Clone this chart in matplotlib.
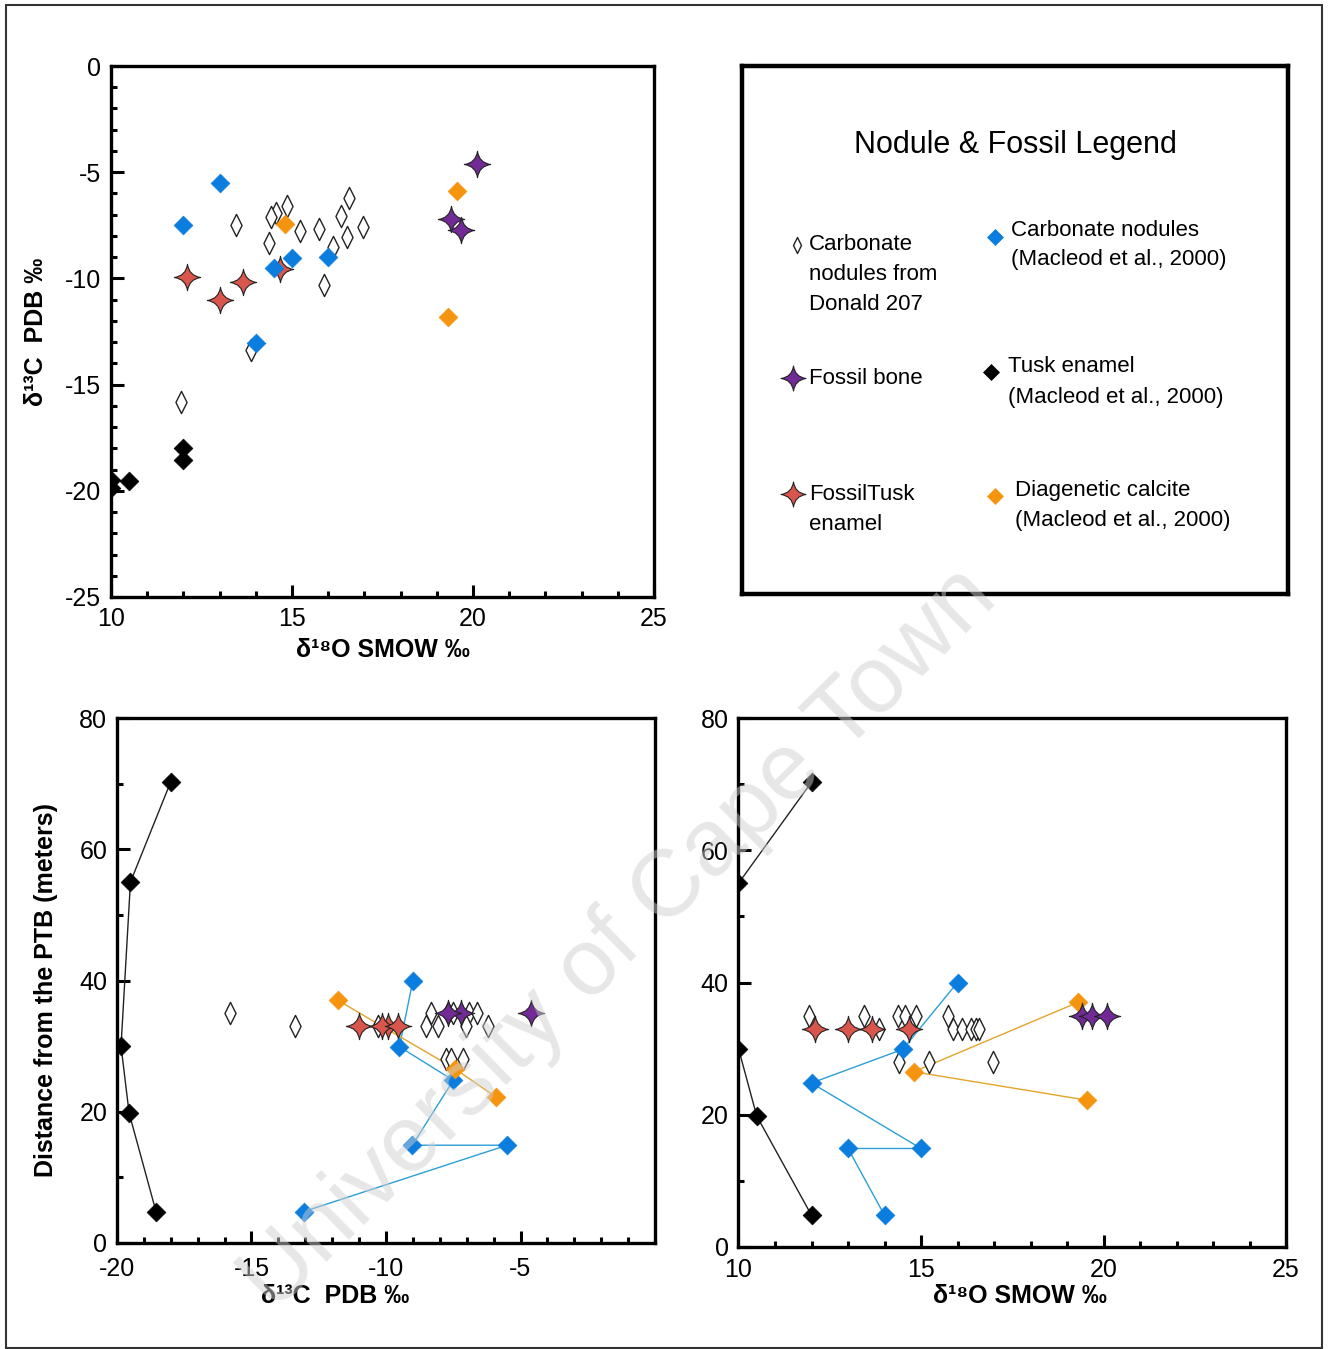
import numpy as np
import matplotlib
matplotlib.use("Agg")
import matplotlib.pyplot as plt
from matplotlib.path import Path
from matplotlib.ticker import MultipleLocator
from matplotlib.patches import Rectangle

plt.rcParams['font.family'] = ['Liberation Sans', 'DejaVu Sans']
plt.rcParams['axes.unicode_minus'] = False

## data: d18O (SMOW), d13C (PDB), distance from the PTB (m)
# carbonate nodules from Donald 207
nod_o18 = [11.93, 13.45, 14.37, 14.55, 14.85, 15.74, 13.86, 15.88, 16.12, 16.36, 16.51, 16.58, 14.41, 15.23, 16.97]
nod_c13 = [-15.8, -7.5, -8.32, -6.92, -6.6, -7.68, -13.37, -10.31, -8.5, -7.04, -8.05, -6.2, -7.12, -7.78, -7.6]
nod_dist = [35, 35, 35, 35, 35, 35, 33, 33, 33, 33, 33, 33, 28, 28, 28]

# fossil tusk enamel
tusk_o18 = [12.1, 13.0, 13.66, 14.67]
tusk_c13 = [-9.92, -11.02, -10.15, -9.56]
tusk_dist = [33, 33, 33, 33]

# fossil bone
bone_o18 = [19.4, 19.68, 20.1]
bone_c13 = [-7.2, -7.7, -4.62]
bone_dist = [35, 35, 35]

# carbonate nodules (Macleod et al., 2000)
mac_o18 = [14.0, 13.0, 15.0, 12.0, 14.5, 16.0]
mac_c13 = [-13.05, -5.5, -9.02, -7.5, -9.5, -9.0]
mac_dist = [4.8, 14.9, 14.9, 24.8, 29.9, 40]

# tusk enamel (Macleod et al., 2000)
enam_o18 = [12.0, 10.5, 10.0, 10.0, 12.0]
enam_c13 = [-18.55, -19.55, -19.85, -19.5, -18.0]
enam_dist = [4.8, 19.8, 30, 55, 70.3]

# diagenetic calcite (Macleod et al., 2000)
diag_o18 = [19.55, 14.8, 19.3]
diag_c13 = [-5.9, -7.42, -11.8]
diag_dist = [22.2, 26.5, 37.0]

BLUE = '#0a7ddf'
ORANGE = '#f5950f'
RED = '#d9564c'
PURPLE = '#722a96'


def closed(verts):
    return Path(verts + [verts[0]], [Path.MOVETO] + [Path.LINETO] * (len(verts) - 1) + [Path.CLOSEPOLY])


def sparkle(c=0.12):
    # 4 pointed star with concave sides
    tips = [(0, 1), (1, 0), (0, -1), (-1, 0)]
    ctrl = [(c, c), (c, -c), (-c, -c), (-c, c)]
    verts = [tips[0]]
    codes = [Path.MOVETO]
    for i in range(4):
        verts += [ctrl[i], tips[(i + 1) % 4]]
        codes += [Path.CURVE3, Path.CURVE3]
    verts.append(tips[0])
    codes.append(Path.CLOSEPOLY)
    return Path(verts, codes)

STAR = sparkle()
DIAMOND = closed([(0, 1), (1, 0), (0, -1), (-1, 0)])
THIN = closed([(0, 1), (0.5, 0), (0, -1), (-0.5, 0)])

styles = {
    "nod": dict(marker=THIN, ms=16, mfc='white', mec='#222222', mew=1.0),
    "tusk": dict(marker=STAR, ms=19, mfc=RED, mec='#222222', mew=0.8),
    "mac": dict(marker=DIAMOND, ms=13.5, mfc=BLUE, mec=BLUE, mew=0.5),
    "diag": dict(marker=DIAMOND, ms=13.5, mfc=ORANGE, mec=ORANGE, mew=0.5),
    "enam": dict(marker=DIAMOND, ms=13.5, mfc='black', mec='black', mew=0.5),
    "bone": dict(marker=STAR, ms=19, mfc=PURPLE, mec='#222222', mew=0.8),
}

groups = [
    ("nod", nod_o18, nod_c13, nod_dist, None),
    ("tusk", tusk_o18, tusk_c13, tusk_dist, None),
    ("mac", mac_o18, mac_c13, mac_dist, '#2a9fd8'),
    ("diag", diag_o18, diag_c13, diag_dist, '#e2a42a'),
    ("enam", enam_o18, enam_c13, enam_dist, '#222222'),
    ("bone", bone_o18, bone_c13, bone_dist, None),
]

W, H = 1330, 1349
fig = plt.figure(figsize=(W / 100, H / 100), dpi=100)
fig.patches.append(Rectangle((6 / W, 1 - 1348 / H), 1316 / W, 1343 / H, transform=fig.transFigure,
                             fill=False, lw=1.5, ec='#333333'))


def axes_px(x0, y0, x1, y1):
    return fig.add_axes([x0 / W, 1 - y1 / H, (x1 - x0) / W, (y1 - y0) / H])


def style_axes(ax, xpad=7):
    for s in ['top', 'right', 'bottom', 'left']:
        ax.spines[s].set_linewidth(2.4)
    ax.tick_params(which='both', direction='in', top=False, right=False, width=2.2, labelsize=18, pad=7)
    ax.tick_params(axis='x', which='both', pad=xpad)
    ax.tick_params(which='major', length=9)
    ax.tick_params(which='minor', length=4)


def draw(ax, xi, yi, lines):
    for key, o18, c13, dist, lc in groups:
        cols = {"o": o18, "c": c13, "d": dist}
        x, y = cols[xi], cols[yi]
        if lines and lc is not None:
            ax.plot(x, y, color=lc, lw=1.0, zorder=2)
        ax.plot(x, y, ls='none', zorder=3, **styles[key])


O_LABEL = 'δ¹⁸O SMOW ‰'
C_LABEL = 'δ¹³C  PDB ‰'

# top left: d13C vs d18O
ax1 = axes_px(111, 66, 654, 597)
draw(ax1, "o", "c", False)
ax1.set_xlim(10, 25)
ax1.set_ylim(-25, 0)
ax1.xaxis.set_major_locator(MultipleLocator(5))
ax1.xaxis.set_minor_locator(MultipleLocator(1))
ax1.yaxis.set_major_locator(MultipleLocator(5))
ax1.yaxis.set_minor_locator(MultipleLocator(1))
style_axes(ax1)
ax1.set_xlabel(O_LABEL, fontsize=18, fontweight='bold', va='center')
ax1.xaxis.set_label_coords(0.5, -0.1)
ax1.set_ylabel(C_LABEL, fontsize=18, fontweight='bold', va='center')
ax1.yaxis.set_label_coords(-0.138, 0.5)

# legend panel
axl = axes_px(742, 66, 1288, 594)
axl.set_xlim(742, 1288)
axl.set_ylim(594, 66)
axl.set_xticks([])
axl.set_yticks([])
for s in axl.spines.values():
    s.set_linewidth(3.2)
axl.text(1015, 145, "Nodule & Fossil Legend", fontsize=22, ha='center', va='center')

legend_items = [
    ("nod", 797, 245, 11.5, 809, 245, ["Carbonate", "nodules from", "Donald 207"]),
    ("mac", 995, 237, 11.5, 1011, 230, ["Carbonate nodules", "(Macleod et al., 2000)"]),
    ("bone", 793, 378, 18, 809, 378, ["Fossil bone"]),
    ("enam", 991, 372, 11.5, 1008, 367, ["Tusk enamel", "(Macleod et al., 2000)"]),
    ("tusk", 793, 494, 18, 809, 494, ["FossilTusk", "enamel"]),
    ("diag", 995, 496, 11.5, 1015, 490, ["Diagenetic calcite", "(Macleod et al., 2000)"]),
]
for key, mx, my, ms, tx, ty, lines in legend_items:
    st = dict(styles[key])
    st["ms"] = ms
    axl.plot([mx], [my], ls='none', **st)
    for i, line in enumerate(lines):
        axl.text(tx, ty + 30 * i, line, fontsize=16, ha='left', va='center')

# bottom left: distance vs d13C
ax3 = axes_px(117, 718, 655, 1243)
draw(ax3, "c", "d", True)
ax3.set_xlim(-20, 0)
ax3.set_ylim(0, 80)
ax3.set_xticks([-20, -15, -10, -5])
ax3.xaxis.set_minor_locator(MultipleLocator(1))
ax3.yaxis.set_major_locator(MultipleLocator(20))
ax3.yaxis.set_minor_locator(MultipleLocator(10))
style_axes(ax3, xpad=10)
ax3.set_xlabel(C_LABEL, fontsize=18, fontweight='bold', va='center')
ax3.xaxis.set_label_coords(0.405, -0.101)
ax3.set_ylabel("Distance from the PTB (meters)", fontsize=18, fontweight='bold', va='center')
ax3.yaxis.set_label_coords(-0.132, 0.482)

# bottom right: distance vs d18O
ax4 = axes_px(738.5, 718, 1286, 1247)
draw(ax4, "o", "d", True)
ax4.set_xlim(10, 25)
ax4.set_ylim(0, 80)
ax4.xaxis.set_major_locator(MultipleLocator(5))
ax4.xaxis.set_minor_locator(MultipleLocator(1))
ax4.yaxis.set_major_locator(MultipleLocator(20))
ax4.yaxis.set_minor_locator(MultipleLocator(10))
style_axes(ax4, xpad=8)
ax4.set_xlabel(O_LABEL, fontsize=18, fontweight='bold', va='center')
ax4.xaxis.set_label_coords(0.514, -0.093)

# watermark
fig.text(620 / W, 1 - 940 / H, "University of Cape Town", fontsize=68, rotation=44.5,
         color='#cfcfcf', alpha=0.5, ha='center', va='center', zorder=10)

fig.savefig("out.png", dpi=100)
